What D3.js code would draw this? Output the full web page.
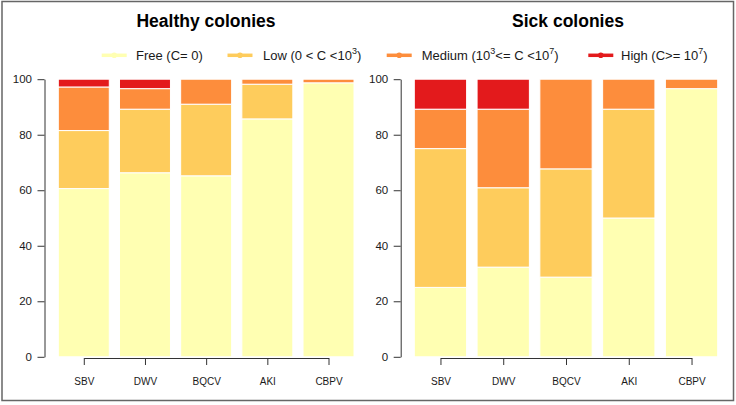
<!DOCTYPE html>
<html>
<head>
<meta charset="utf-8">
<script src="https://cdn.jsdelivr.net/npm/d3@7"></script>
<style>
  html, body { margin: 0; padding: 0; background: #fff; }
  svg { display: block; font-family: "Liberation Sans", Arial, sans-serif; }
</style>
</head>
<body>
<svg id="chart" width="736" height="405"></svg>
<script>
// ---- data ----
const viruses = ["SBV", "DWV", "BQCV", "AKI", "CBPV"];
const levels = ["Free", "Low", "Medium", "High"];
const levelColors = ["#FFFFB2", "#FECC5C", "#FD8D3C", "#E31A1C"];
const yTicks = [0, 20, 40, 60, 80, 100];

// percentages per level (Free, Low, Medium, High), one value per virus
const healthyFree   = [60.6, 66.3, 65.2, 85.7, 98.7];
const healthyLow    = [20.9, 22.9, 25.8, 12.5, 0.0];
const healthyMedium = [15.7, 7.4, 9.0, 1.8, 1.3];
const healthyHigh   = [2.8, 3.4, 0.0, 0.0, 0.0];

const sickFree   = [25.0, 32.3, 28.7, 50.0, 96.6];
const sickLow    = [50.0, 28.6, 39.0, 39.2, 0.0];
const sickMedium = [14.2, 28.3, 32.3, 10.8, 3.4];
const sickHigh   = [10.8, 10.8, 0.0, 0.0, 0.0];

const panelTitles = ["Healthy colonies", "Sick colonies"];

// ---- build tables ----
function table(free, low, medium, high) {
  return viruses.map((v, i) => ({ virus: v, Free: free[i], Low: low[i], Medium: medium[i], High: high[i] }));
}
const panels = [
  { title: panelTitles[0], rows: table(healthyFree, healthyLow, healthyMedium, healthyHigh),
    range: [58.3, 354], axisX: 44.5, labelX: 31.5, titleX: 206 },
  { title: panelTitles[1], rows: table(sickFree, sickLow, sickMedium, sickHigh),
    range: [414.3, 717.7], axisX: 400.7, labelX: 382, titleX: 568 }
];

const svg = d3.select("#chart");
const axisColor = "#333";
const textColor = "#1a1a1a";

// frame
svg.append("rect")
  .attr("x", 2).attr("y", 1.5).attr("width", 731.5).attr("height", 399)
  .attr("fill", "none").attr("stroke", "#666").attr("stroke-width", 1.5);

const y = d3.scaleLinear().domain([0, 100]).range([356.8, 79.2]);
const color = d3.scaleOrdinal().domain(levels).range(levelColors);
const stack = d3.stack().keys(levels);

panels.forEach(p => {
  const x = d3.scaleBand().domain(viruses).range(p.range).paddingInner(1 / 6).paddingOuter(0);
  const g = svg.append("g");

  // bars
  const series = stack(p.rows);
  g.selectAll("g.layer").data(series).join("g")
    .attr("fill", d => color(d.key))
    .selectAll("rect").data(d => d.filter(s => s[1] - s[0] > 0)).join("rect")
      .attr("x", d => x(d.data.virus))
      .attr("width", x.bandwidth())
      .attr("y", d => y(d[1]))
      .attr("height", d => y(d[0]) - y(d[1]))
      .attr("stroke", "#fff")
      .attr("stroke-width", 1);

  // y axis
  const yAxis = d3.axisLeft(y).tickValues(yTicks).tickSize(7).tickPadding(5.5).tickSizeOuter(0);
  const ya = g.append("g").attr("transform", `translate(${p.axisX},0)`).call(yAxis);
  ya.select(".domain").attr("stroke", axisColor).attr("stroke-width", 1);
  ya.selectAll(".tick line").attr("stroke", axisColor);
  ya.selectAll(".tick text").attr("font-size", 11.5).attr("fill", textColor)
    .attr("font-family", "'Liberation Sans', Arial, sans-serif");

  // x axis
  const centers = viruses.map(v => x(v) + x.bandwidth() / 2);
  const xAxisScale = d3.scalePoint().domain(viruses).range([centers[0], centers[centers.length - 1]]);
  const xAxis = d3.axisBottom(xAxisScale).tickSize(7).tickPadding(13).tickSizeOuter(0);
  const xa = g.append("g").attr("transform", "translate(0,358)").call(xAxis);
  xa.select(".domain").attr("stroke", axisColor);
  xa.selectAll(".tick line").attr("stroke", axisColor);
  xa.selectAll(".tick text").attr("font-size", 10).attr("fill", textColor)
    .attr("font-family", "'Liberation Sans', Arial, sans-serif");

  // title
  svg.append("text")
    .attr("x", p.titleX).attr("y", 27)
    .attr("text-anchor", "middle")
    .attr("font-size", 17.5).attr("font-weight", "bold").attr("fill", "#000")
    .text(p.title);
});

// ---- legend ----
const legendItems = [
  { key: "Free",   parts: [["Free (C= 0)", false]],                                   lx: 101.7, tx: 136 },
  { key: "Low",    parts: [["Low (0 < C <10", false], ["3", true], [")", false]],    lx: 227.5, tx: 263 },
  { key: "Medium", parts: [["Medium (10", false], ["3", true], ["<= C <10", false], ["7", true], [")", false]], lx: 386.7, tx: 421.7 },
  { key: "High",   parts: [["High (C>= 10", false], ["7", true], [")", false]],      lx: 588.3, tx: 621 }
];
const legY = 55.3;
const leg = svg.append("g");
legendItems.forEach(it => {
  const c = color(it.key);
  leg.append("line")
    .attr("x1", it.lx).attr("x2", it.lx + 25)
    .attr("y1", legY).attr("y2", legY)
    .attr("stroke", c).attr("stroke-width", 3.5);
  leg.append("circle")
    .attr("cx", it.lx + 12.5).attr("cy", legY).attr("r", 2.8).attr("fill", c);
  const t = leg.append("text")
    .attr("x", it.tx).attr("y", 60.2)
    .attr("font-size", 13).attr("fill", textColor);
  it.parts.forEach(([s, sup], i) => {
    const prevSup = i > 0 && it.parts[i - 1][1];
    const ts = t.append("tspan").text(s);
    if (sup) ts.attr("font-size", 9).attr("dy", -6);
    else if (prevSup) ts.attr("dy", 6);
  });
});
</script>
</body>
</html>
